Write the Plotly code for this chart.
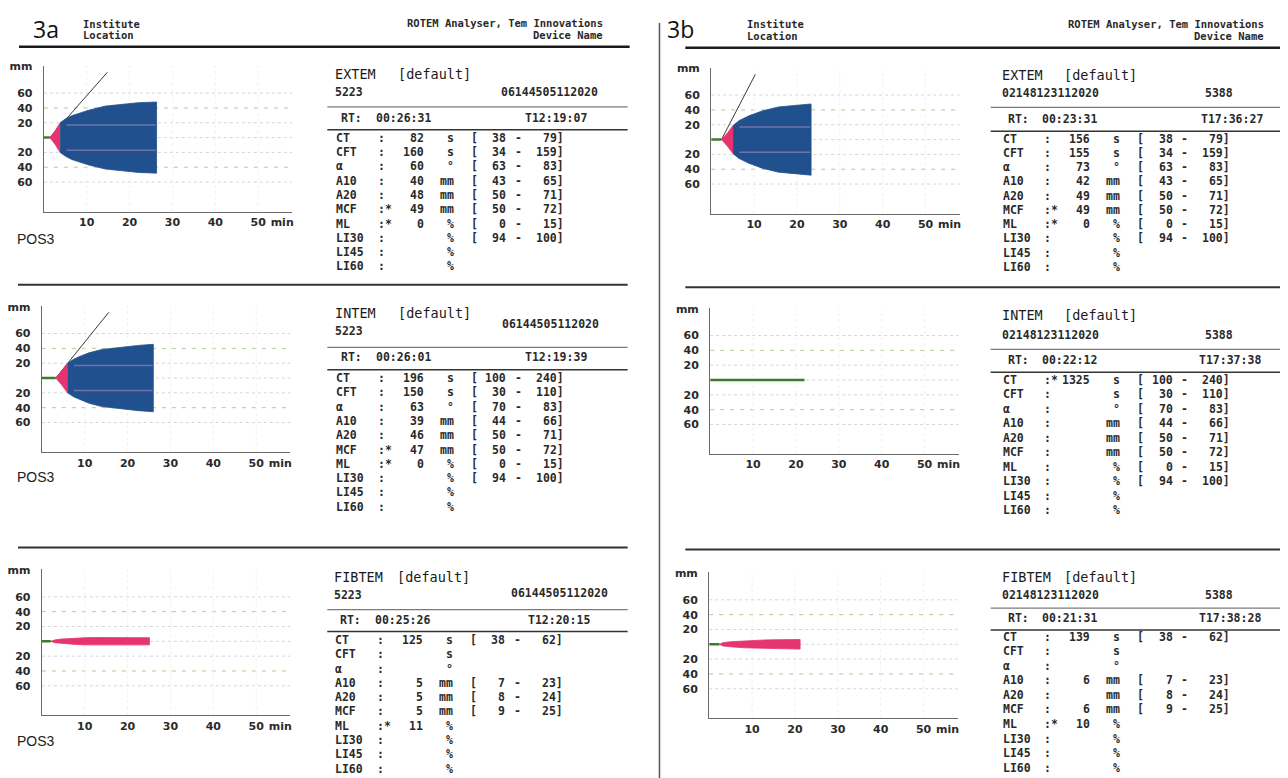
import plotly.graph_objects as go

W, H = 1288, 778
OFF = 8  # page body margin of the html page, compensated in pixel layout
MONO = "DejaVu Sans Mono"
SANS = "DejaVu Sans"
INK = "#2a2a2a"
BLUE = "#21508e"
PINK = "#e5346f"
GREEN = "#3b7d2c"

# ---------------- data ----------------
params = ["CT", "CFT", "α", "A10", "A20", "MCF", "ML", "LI30", "LI45", "LI60"]
units = ["s", "s", "°", "mm", "mm", "mm", "%", "%", "%", "%"]

extem_low = ["38", "34", "63", "43", "50", "50", "0", "94", "", ""]
extem_high = ["79", "159", "83", "65", "71", "72", "15", "100", "", ""]
intem_low = ["100", "30", "70", "44", "50", "50", "0", "94", "", ""]
intem_high = ["240", "110", "83", "66", "71", "72", "15", "100", "", ""]
fibtem_low = ["38", "", "", "7", "8", "9", "", "", "", ""]
fibtem_high = ["62", "", "", "23", "24", "25", "", "", "", ""]

a_extem_vals = ["82", "160", "60", "40", "48", "49", "0", "", "", ""]
a_extem_flags = ["", "", "", "", "", "*", "*", "", "", ""]
a_intem_vals = ["196", "150", "63", "39", "46", "47", "0", "", "", ""]
a_intem_flags = ["", "", "", "", "", "*", "*", "", "", ""]
a_fibtem_vals = ["125", "", "", "5", "5", "5", "11", "", "", ""]
a_fibtem_flags = ["", "", "", "", "", "", "*", "", "", ""]

b_extem_vals = ["156", "155", "73", "42", "49", "49", "0", "", "", ""]
b_extem_flags = ["", "", "", "", "", "*", "*", "", "", ""]
b_intem_vals = ["1325", "", "", "", "", "", "", "", "", ""]
b_intem_flags = ["*", "", "", "", "", "", "", "", "", ""]
b_fibtem_vals = ["139", "", "", "6", "", "6", "10", "", "", ""]
b_fibtem_flags = ["", "", "", "", "", "", "*", "", "", ""]

a_ids = ["5223", "06144505112020"]
b_ids = ["02148123112020", "5388"]
a_rt = ["00:26:31", "00:26:01", "00:25:26"]
a_clock = ["T12:19:07", "T12:19:39", "T12:20:15"]
b_rt = ["00:23:31", "00:22:12", "00:21:31"]
b_clock = ["T17:36:27", "T17:37:38", "T17:38:28"]

x_tick_vals = [10, 20, 30, 40, 50, 55.6]
x_tick_text = ["10", "20", "30", "40", "50", "min"]
y_tick_vals = [96, 60, 40, 20, -20, -40, -60]
y_tick_text = ["mm", "60", "40", "20", "20", "40", "60"]

# temogram traces: time (min) vs amplitude (mm)
a_extem_pink_t = [1.4, 2.6, 3.8]
a_extem_pink_a = [0, 9, 20]
a_extem_blue_t = [3.8, 5.0, 6.5, 8.2, 10.5, 14.4, 18.3, 22.0, 26.3]
a_extem_blue_a = [20, 25, 29.5, 32.5, 37, 42.5, 45, 47, 48]
a_extem_alpha_t = [1.4, 14.8]
a_extem_alpha_a = [0, 88]

a_intem_pink_t = [3.25, 4.6, 6.0]
a_intem_pink_a = [0, 9, 20]
a_intem_blue_t = [6.0, 7.5, 9.0, 11.0, 14.0, 18.8, 22.5, 26.0]
a_intem_blue_a = [20, 25.5, 29.5, 34, 38.5, 42, 44, 45.5]
a_intem_alpha_t = [3.25, 15.6]
a_intem_alpha_a = [0, 88.6]

a_fibtem_pink_t = [2.1, 3.0, 4.5, 6.0, 8.0, 10.0, 12.0, 14.0, 16.0, 18.0, 20.0, 22.0, 25.1]
a_fibtem_pink_a = [0, 1.8, 3.0, 3.7, 4.3, 4.8, 5.1, 5.2, 5.2, 5.1, 5.0, 4.9, 4.8]

b_extem_pink_t = [2.4, 3.8, 5.1]
b_extem_pink_a = [0, 9, 19]
b_extem_blue_t = [5.1, 6.5, 8.8, 11.9, 15.7, 19.5, 23.3]
b_extem_blue_a = [19, 25.5, 32, 38.6, 44, 46.5, 48]
b_extem_alpha_t = [2.4, 10.3]
b_extem_alpha_a = [0, 88]

b_intem_flat_t = [0, 22.0]

b_fibtem_pink_t = [2.4, 3.2, 5.0, 8.4, 12.0, 14.6, 18.0, 21.2]
b_fibtem_pink_a = [0, 2.2, 3.4, 4.8, 5.6, 6.0, 6.3, 6.5]

panels = [
    dict(test="EXTEM", vals=a_extem_vals, flags=a_extem_flags, low=extem_low, high=extem_high,
         idl=a_ids[0], idr=a_ids[1], rt=a_rt[0], clock=a_clock[0],
         pink=(a_extem_pink_t, a_extem_pink_a), blue=(a_extem_blue_t, a_extem_blue_a),
         alpha=(a_extem_alpha_t, a_extem_alpha_a), base=[0, a_extem_pink_t[0]], pos3=True),
    dict(test="INTEM", vals=a_intem_vals, flags=a_intem_flags, low=intem_low, high=intem_high,
         idl=a_ids[0], idr=a_ids[1], rt=a_rt[1], clock=a_clock[1],
         pink=(a_intem_pink_t, a_intem_pink_a), blue=(a_intem_blue_t, a_intem_blue_a),
         alpha=(a_intem_alpha_t, a_intem_alpha_a), base=[0, a_intem_pink_t[0]], pos3=True),
    dict(test="FIBTEM", vals=a_fibtem_vals, flags=a_fibtem_flags, low=fibtem_low, high=fibtem_high,
         idl=a_ids[0], idr=a_ids[1], rt=a_rt[2], clock=a_clock[2],
         pink=(a_fibtem_pink_t, a_fibtem_pink_a), blue=None,
         alpha=None, base=[0, a_fibtem_pink_t[0]], pos3=True),
    dict(test="EXTEM", vals=b_extem_vals, flags=b_extem_flags, low=extem_low, high=extem_high,
         idl=b_ids[0], idr=b_ids[1], rt=b_rt[0], clock=b_clock[0],
         pink=(b_extem_pink_t, b_extem_pink_a), blue=(b_extem_blue_t, b_extem_blue_a),
         alpha=(b_extem_alpha_t, b_extem_alpha_a), base=[0, b_extem_pink_t[0]], pos3=False),
    dict(test="INTEM", vals=b_intem_vals, flags=b_intem_flags, low=intem_low, high=intem_high,
         idl=b_ids[0], idr=b_ids[1], rt=b_rt[1], clock=b_clock[1],
         pink=None, blue=None, alpha=None, base=b_intem_flat_t, pos3=False),
    dict(test="FIBTEM", vals=b_fibtem_vals, flags=b_fibtem_flags, low=fibtem_low, high=fibtem_high,
         idl=b_ids[0], idr=b_ids[1], rt=b_rt[2], clock=b_clock[2],
         pink=(b_fibtem_pink_t, b_fibtem_pink_a), blue=None,
         alpha=None, base=[0, b_fibtem_pink_t[0]], pos3=False),
]

# ---------------- layout constants (page pixels) ----------------
PW, PH = 250, 147
XR = [0, 58]
YR = [-100, 97]
plot_pos = [(38, 61), (36, 303), (36, 568), (709, 63), (708, 305), (707, 571)]
pos3_y = [237, 477, 742]
text_lay = [
    dict(x0=330, title=71, idl=89, idr=89, l1=102.5, rt=115, l2=125.5, ct=135, step=14.4, idr_x=597, clk_x=586, lx=(323, 625)),
    dict(x0=330, title=311.5, idl=330, idr=322.5, l1=344.5, rt=356, l2=367, ct=377, step=14.37, idr_x=598, clk_x=586, lx=(323, 625)),
    dict(x0=329, title=577, idl=595, idr=593, l1=608.5, rt=620.5, l2=630.5, ct=640.5, step=14.4, idr_x=607, clk_x=589, lx=(323, 625)),
    dict(x0=1000, title=72, idl=90, idr=90, l1=103, rt=116, l2=127, ct=136, step=14.33, idr_x=1236, clk_x=1266, lx=(990, 1296)),
    dict(x0=1000, title=313, idl=334, idr=334, l1=346.5, rt=359, l2=369.5, ct=378.5, step=14.6, idr_x=1236, clk_x=1264, lx=(990, 1296)),
    dict(x0=1000, title=577, idl=595, idr=595, l1=607, rt=618.5, l2=629, ct=637.5, step=14.6, idr_x=1236, clk_x=1264, lx=(990, 1296)),
]
TY = -1.5  # small vertical text correction


def PX(x):
    return (x - OFF) / W


def PY(y):
    return 1 - (y - OFF) / H


fig = go.Figure()
annotations = []
shapes = []


def txt(x, y, s, size=11.5, anchor="left", family=MONO, color=INK, weight="bold", ty=TY):
    annotations.append(dict(xref="paper", yref="paper", x=PX(x), y=PY(y + ty), text=s,
                            showarrow=False, xanchor=anchor, yanchor="middle",
                            font=dict(family=family, size=size, color=color, weight=weight)))


def pline(x0, y0, x1, y1, color="#222", width=1.0):
    shapes.append(dict(type="line", xref="paper", yref="paper", x0=PX(x0), x1=PX(x1),
                       y0=PY(y0), y1=PY(y1), line=dict(color=color, width=width)))


def mirror(t, a):
    return list(t) + list(t)[::-1], list(a) + [-v for v in list(a)[::-1]]


axis_font = dict(family=SANS, size=11, color="#2a2a2a", weight="bold")

for k, p in enumerate(panels):
    n = k + 1
    xa = "x" if n == 1 else f"x{n}"
    ya = "y" if n == 1 else f"y{n}"
    left, top = plot_pos[k]
    fig.layout[f"xaxis{'' if n == 1 else n}"] = dict(
        domain=[PX(left), PX(left + PW)], anchor=ya, range=XR, showline=True,
        linecolor="#6a6a6a", linewidth=1.3, showgrid=False, zeroline=False,
        tickvals=x_tick_vals, ticktext=x_tick_text, ticks="", ticklabelstandoff=0,
        tickfont=axis_font, fixedrange=True)
    fig.layout[f"yaxis{'' if n == 1 else n}"] = dict(
        domain=[PY(top + PH), PY(top)], anchor=xa, range=YR, showline=True,
        linecolor="#6a6a6a", linewidth=1.3, showgrid=False, zeroline=False,
        tickvals=y_tick_vals, ticktext=y_tick_text, ticks="", ticklabelstandoff=8,
        tickfont=axis_font, fixedrange=True)

    # grid
    for gv in [60, 20, 0, -20, -60]:
        shapes.append(dict(type="line", xref=xa, yref=ya, x0=XR[0], x1=XR[1], y0=gv, y1=gv,
                           layer="below", line=dict(color="#d6d6d6", width=1, dash="dot")))
    for gv in [40, -40]:
        shapes.append(dict(type="line", xref=xa, yref=ya, x0=XR[0], x1=XR[1], y0=gv, y1=gv,
                           layer="below", line=dict(color="#a9cf8c", width=1, dash="4px,6px")))
    for gx in [10, 20, 30, 40, 50]:
        shapes.append(dict(type="line", xref=xa, yref=ya, x0=gx, x1=gx, y0=YR[0], y1=YR[1],
                           layer="below", line=dict(color="#f0f0f0", width=1, dash="dot")))

    if p["alpha"]:
        fig.add_trace(go.Scatter(x=p["alpha"][0], y=p["alpha"][1], mode="lines",
                                 line=dict(color="#3a3a3a", width=1), xaxis=xa, yaxis=ya,
                                 hoverinfo="skip", showlegend=False))
    if p["pink"]:
        px, py = mirror(*p["pink"])
        fig.add_trace(go.Scatter(x=px, y=py, mode="lines", fill="toself", fillcolor=PINK,
                                 line=dict(color=PINK, width=0.8), xaxis=xa, yaxis=ya,
                                 hoverinfo="skip", showlegend=False))
    if p["blue"]:
        bt, ba = p["blue"]
        bx, by = mirror(bt, ba)
        fig.add_trace(go.Scatter(x=bx, y=by, mode="lines", fill="toself", fillcolor=BLUE,
                                 line=dict(color=BLUE, width=0.8), xaxis=xa, yaxis=ya,
                                 hoverinfo="skip", showlegend=False))
        # faint grid stripes showing through the printed blue area
        for gv in [17, -17]:
            shapes.append(dict(type="line", xref=xa, yref=ya, x0=bt[0] + 1.5, x1=bt[-1] - 0.2,
                               y0=gv, y1=gv, layer="above",
                               line=dict(color="rgba(205,160,205,0.45)", width=1.5)))
    fig.add_trace(go.Scatter(x=p["base"], y=[0] * len(p["base"]), mode="lines",
                             line=dict(color=GREEN, width=2.5), xaxis=xa, yaxis=ya,
                             hoverinfo="skip", showlegend=False))

    # text panel
    L = text_lay[k]
    x0 = L["x0"]
    txt(x0 - 1, L["title"], p["test"], size=13.5, weight="normal", color="#1a1a1a")
    txt(x0 + 62, L["title"], "[default]", size=13.5, weight="normal", color="#1a1a1a")
    txt(x0 - 1, L["idl"], p["idl"], size=11.5)
    txt(L["idr_x"], L["idr"], p["idr"], size=11.5, anchor="right")
    pline(L["lx"][0], L["l1"], L["lx"][1], L["l1"], color="#7a7a7a", width=1.2)
    txt(x0 + 5, L["rt"], "RT:", size=11.5)
    txt(x0 + 40, L["rt"], p["rt"], size=11.5)
    txt(L["clk_x"], L["rt"], p["clock"], size=11.5, anchor="right")
    pline(L["lx"][0], L["l2"], L["lx"][1], L["l2"], color="#333", width=1.5)
    for i, name in enumerate(params):
        y = L["ct"] + i * L["step"]
        txt(x0, y, name)
        txt(x0 + 42, y, ":" + p["flags"][i])
        if p["vals"][i]:
            txt(x0 + 92, y, p["vals"][i], anchor="right")
        txt(x0 + 122, y, units[i], anchor="right")
        if p["low"][i]:
            txt(x0 + 135, y, "[")
            txt(x0 + 175, y, p["low"][i], anchor="right")
            txt(x0 + 185, y, "-", anchor="center")
            txt(x0 + 233, y, p["high"][i] + "]", anchor="right")
    if p["pos3"]:
        txt(9, pos3_y[k], "POS3", size=14, family="Liberation Sans", color="#222", weight="normal")

# page headers
txt(25, 24, "3a", size=23, family="Open Sans", color="#111", weight="normal", ty=0)
txt(663, 24, "3b", size=23, family="Open Sans", color="#111", weight="normal", ty=0)
txt(75, 21, "Institute", size=10.5)
txt(75, 32, "Location", size=10.5)
txt(743, 21, "Institute", size=10.5)
txt(743, 33, "Location", size=10.5)
txt(602, 20, "ROTEM Analyser, Tem Innovations", size=10.5, anchor="right")
txt(602, 32, "Device Name", size=10.5, anchor="right")
txt(1267, 21, "ROTEM Analyser, Tem Innovations", size=10.5, anchor="right")
txt(1267, 33, "Device Name", size=10.5, anchor="right")

pline(13, 42, 627, 42, color="#1a1a1a", width=2.5)
pline(683, 43, 1296, 43, color="#1a1a1a", width=2.5)
pline(657, 18, 657, 790, color="#555", width=1.5)
pline(12, 281.5, 625, 281.5, color="#333", width=2)
pline(12, 546, 625, 546, color="#333", width=2)
pline(683, 284, 1296, 284, color="#333", width=2)
pline(683, 548, 1296, 548, color="#333", width=2)

fig.update_layout(width=W, height=H, margin=dict(l=0, r=0, t=0, b=0),
                  paper_bgcolor="white", plot_bgcolor="white",
                  annotations=annotations, shapes=shapes, showlegend=False)

fig.write_html("out.html")
